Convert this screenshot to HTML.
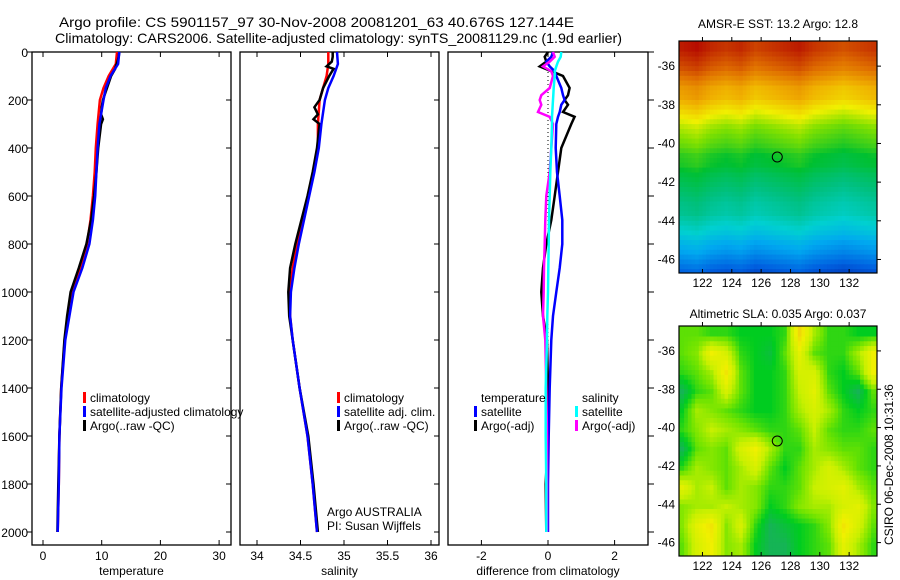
<!DOCTYPE html>
<html><head><meta charset="utf-8"><style>
html,body{margin:0;padding:0;background:#fff;}
svg{display:block;font-family:"Liberation Sans",sans-serif;}
</style></head><body>
<svg id="chart" width="900" height="580" viewBox="0 0 900 580" xmlns="http://www.w3.org/2000/svg">
<text x="59" y="27" font-size="14" textLength="515" lengthAdjust="spacingAndGlyphs">Argo profile: CS 5901157_97 30-Nov-2008 20081201_63 40.676S 127.144E</text>
<text x="55" y="43" font-size="14" textLength="567" lengthAdjust="spacingAndGlyphs">Climatology: CARS2006. Satellite-adjusted climatology: synTS_20081129.nc (1.9d earlier)</text>
<text x="778" y="28" font-size="12" text-anchor="middle">AMSR-E SST: 13.2 Argo: 12.8</text>
<text x="778" y="318" font-size="12" text-anchor="middle">Altimetric SLA: 0.035 Argo: 0.037</text>
<text transform="translate(893,545) rotate(-90)" font-size="12">CSIRO 06-Dec-2008 10:31:36</text>
<g id="g"></g>
</svg>
<script>
// ---- profile data ----
const depths = [0,50,100,150,200,300,400,500,600,700,800,900,1000,1100,1200,1400,1600,1800,2000];
const tempClim = [12.6,12.4,11.2,10.3,9.7,9.3,9.0,8.8,8.5,8.1,7.5,6.3,4.9,4.3,3.7,3.1,2.8,2.7,2.5];
const tempSat = [13.0,12.8,11.5,10.7,10.3,9.6,9.3,9.1,8.9,8.5,7.9,6.7,5.2,4.5,3.8,3.15,2.8,2.7,2.5];
const salClim = [34.82,34.82,34.8,34.76,34.72,34.70,34.70,34.65,34.59,34.53,34.46,34.41,34.38,34.38,34.41,34.49,34.58,34.64,34.69];
const salSat = [34.92,34.93,34.88,34.82,34.78,34.74,34.71,34.66,34.60,34.54,34.48,34.43,34.39,34.38,34.41,34.49,34.58,34.64,34.69];
const argoDepths = [0,20,40,60,70,100,150,200,230,260,280,300,400,500,600,700,800,900,1000,1100,1200,1400,1600,1800,2000];
const argoTemp = [13.0,12.9,12.7,12.4,12.3,11.6,10.9,10.2,10.0,9.9,10.2,9.9,9.4,9.1,8.7,8.2,7.4,6.1,4.7,4.1,3.65,3.1,2.8,2.6,2.45];
const argoSal = [34.87,34.87,34.86,34.80,34.88,34.83,34.76,34.72,34.66,34.70,34.65,34.72,34.69,34.64,34.58,34.51,34.44,34.38,34.36,34.37,34.41,34.49,34.59,34.65,34.70];
const diffDepths = [0,20,40,60,80,100,150,180,200,220,250,270,300,400,500,600,700,800,900,1000,1100,1200,1400,1600,1800,2000];
const diffTempSat = [0.15,0.1,-0.05,0.05,0.2,0.25,0.4,0.45,0.5,0.4,0.35,0.3,0.25,0.23,0.27,0.35,0.43,0.43,0.35,0.25,0.15,0.1,0.05,0.02,0,0];
const diffTempArgo = [0,-0.1,-0.05,-0.25,0.1,0.45,0.65,0.6,0.5,0.6,0.45,0.8,0.7,0.4,0.3,0.2,0.1,-0.05,-0.15,-0.2,-0.15,-0.03,0,0,-0.07,-0.05];
const diffSalSat = [0.4,0.38,0.3,0.25,0.2,0.2,0.17,0.16,0.15,0.14,0.13,0.12,0.12,0.1,0.07,0.05,0.03,0.02,0.01,0,-0.02,-0.03,-0.07,-0.07,-0.05,-0.05];
const diffSalArgo = [0.15,0.2,0.05,-0.15,0.1,0.15,0.05,-0.2,-0.25,-0.2,-0.3,0.05,0.15,0.1,0.05,-0.05,-0.08,-0.1,-0.12,-0.13,-0.15,-0.08,-0.05,-0.03,-0.03,-0.03];
const depthTicks = [0,200,400,600,800,1000,1200,1400,1600,1800,2000];
const tempTicks = [0,10,20,30];
const salTicks = [34,34.5,35,35.5,36];
const diffTicks = [-2,0,2];
// ---- map data ----
const sstLats = [-35,-35.5,-36,-36.5,-37,-37.5,-38,-38.5,-39,-39.5,-40,-40.5,-41,-41.5,-42,-42.5,-43,-43.5,-44,-44.5,-45,-45.5,-46,-46.5];
const sstRow = [16.6,16.4,16.2,15.9,15.6,15.5,15.2,14.9,14.6,14.4,14.2,13.9,13.8,13.5,13.3,13.1,12.9,12.8,12.5,12.2,11.8,11.5,11.1,10.7];
const sstLons = [120.5,121.5,122.5,123.5,124.5,125.5,126.5,127.5,128.5,129.5,130.5,131.5,132.5,133.5];
const sstColOffset = [0.2,0.3,0.1,0,0.1,-0.1,0,0.1,0.2,0,-0.1,-0.2,-0.1,0];
const slaLats = [-35,-36,-37,-38,-39,-40,-41,-42,-43,-44,-45,-46];
const slaLons = [120.5,121.5,122.5,123.5,124.5,125.5,126.5,127.5,128.5,129.5,130.5,131.5,132.5,133.5];
const slaGrid = [
[.5,.5,.45,.45,.4,.4,.4,.45,.9,.6,.45,.45,.4,.4],
[.5,.55,.8,.7,.45,.4,.35,.5,.75,.5,.45,.45,.6,.8],
[.45,.5,.6,.85,.5,.4,.4,.45,.7,.7,.45,.4,.5,.8],
[.3,.45,.5,.7,.5,.4,.4,.45,.65,.75,.5,.4,.3,.5],
[.4,.6,.55,.5,.45,.4,.4,.45,.6,.7,.6,.45,.4,.45],
[.45,.55,.65,.6,.55,.5,.45,.45,.5,.65,.5,.45,.45,.5],
[.3,.5,.55,.5,.7,.8,.6,.45,.45,.6,.55,.5,.5,.45],
[.45,.6,.55,.5,.6,.7,.5,.4,.5,.6,.7,.6,.5,.45],
[.75,.6,.65,.5,.6,.55,.45,.45,.5,.65,.7,.75,.6,.5],
[.55,.6,.6,.65,.6,.55,.4,.45,.55,.6,.6,.7,.75,.55],
[.55,.75,.85,.55,.7,.45,.3,.35,.4,.45,.55,.85,.7,.5],
[.5,.7,.8,.55,.6,.4,.3,.3,.4,.45,.5,.75,.6,.45]];
const argoLon = 127.1, argoLat = -40.7;
const lonTicks = [122,124,126,128,130,132];
const latTicks = [-36,-38,-40,-42,-44,-46];

const NS="http://www.w3.org/2000/svg";
const root=document.getElementById('g');
function el(tag,attrs,parent){const e=document.createElementNS(NS,tag);for(const k in attrs)e.setAttribute(k,attrs[k]);(parent||root).appendChild(e);return e;}
const yD=d=>52+d*0.24;
const PT=52,PB=545;
const panels=[
 {x0:32,x1:231,sx:v=>43+5.87*v,ticks:tempTicks,label:'temperature',name:'temperature-panel'},
 {x0:240,x1:439,sx:v=>257+87*(v-34),ticks:salTicks,label:'salinity',name:'salinity-panel'},
 {x0:448,x1:648,sx:v=>548+33.3*v,ticks:diffTicks,label:'difference from climatology',name:'difference-panel'}];
panels.forEach((p,i)=>{
 const g=el('g',{});
 
 
 const r=el('rect',{x:p.x0,y:PT,width:p.x1-p.x0,height:PB-PT,fill:'none',stroke:'#000','stroke-width':1.3},g);
 
 
 p.ticks.forEach(t=>{const x=p.sx(t);
  el('line',{x1:x,x2:x,y1:PB,y2:PB-5,stroke:'#000'},g);
  el('line',{x1:x,x2:x,y1:PT,y2:PT+5,stroke:'#000'},g);
  const tx=el('text',{x:x,y:PB+15,'font-size':12,'text-anchor':'middle'},g);tx.textContent=String(t);
  
  });
 const xl=el('text',{x:(p.x0+p.x1)/2,y:PB+30,'font-size':12,'text-anchor':'middle'},g);xl.textContent=p.label;
 
 
 depthTicks.forEach(d=>{const y=yD(d);
  if(i===0){el('line',{x1:p.x0-5,x2:p.x0,y1:y,y2:y,stroke:'#000'},g);
   const t=el('text',{x:p.x0-4,y:y+5,'font-size':12,'text-anchor':'end'},g);t.textContent=String(d);
   
   }
  if(i<2) el('line',{x1:p.x1-5,x2:p.x1,y1:y,y2:y,stroke:'#000'},g);
  else el('line',{x1:p.x1,x2:p.x1+6,y1:y,y2:y,stroke:'#000'},g);
 });
});
function line(p,ds,vs,color,name){
 const pts=ds.map((d,k)=>p.sx(vs[k]).toFixed(1)+','+yD(d).toFixed(1)).join(' ');
 const l=el('polyline',{points:pts,fill:'none',stroke:color,'stroke-width':2.5,'stroke-linejoin':'miter'});
 
 
}
line(panels[0],depths,tempClim,'#f00','temp-climatology-line');
line(panels[0],argoDepths,argoTemp,'#000','temp-argo-line');
line(panels[0],depths,tempSat,'#00f','temp-satellite-line');
line(panels[1],depths,salClim,'#f00','sal-climatology-line');
line(panels[1],argoDepths,argoSal,'#000','sal-argo-line');
line(panels[1],depths,salSat,'#00f','sal-satellite-line');
const zl=el('line',{x1:548,x2:548,y1:PT,y2:380,stroke:'#000','stroke-dasharray':'1,3','stroke-width':1});


line(panels[2],diffDepths,diffTempArgo,'#000','diff-temp-argo-line');
line(panels[2],diffDepths,diffTempSat,'#00f','diff-temp-satellite-line');
line(panels[2],diffDepths,diffSalArgo,'#f0f','diff-sal-argo-line');
line(panels[2],diffDepths,diffSalSat,'#0ff','diff-sal-satellite-line');
function legend(x,y,color,text,name){
 if(color){const m=el('rect',{x:x-7,y:y-10,width:3,height:11,fill:color});
  
  }
 const t=el('text',{x:x,y:y,'font-size':12});t.textContent=text;
 
 
}
legend(90,402,'#f00','climatology','legend-temp-climatology');
legend(90,416,'#00f','satellite-adjusted climatology','legend-temp-satellite');
legend(90,430,'#000','Argo(..raw -QC)','legend-temp-argo');
legend(344,402,'#f00','climatology','legend-sal-climatology');
legend(344,416,'#00f','satellite adj. clim.','legend-sal-satellite');
legend(344,430,'#000','Argo(..raw -QC)','legend-sal-argo');
legend(327,516,null,'Argo AUSTRALIA','argo-australia-note');
legend(327,530,null,'PI: Susan Wijffels','pi-note');
legend(481,402,null,'temperature','legend-diff-temp-heading');
legend(481,416,'#00f','satellite','legend-diff-temp-satellite');
legend(481,430,'#000','Argo(-adj)','legend-diff-temp-argo');
legend(582,402,null,'salinity','legend-diff-sal-heading');
legend(582,416,'#0ff','satellite','legend-diff-sal-satellite');
legend(582,430,'#f0f','Argo(-adj)','legend-diff-sal-argo');

// ---- maps ----
function hex(c){return [parseInt(c.slice(1,3),16),parseInt(c.slice(3,5),16),parseInt(c.slice(5,7),16)];}
function cmap(stops,v){v=Math.max(0,Math.min(1,v));
 for(let i=1;i<stops.length;i++){if(v<=stops[i][0]){const a=stops[i-1],b=stops[i];const f=(v-a[0])/(b[0]-a[0]);
  const ca=hex(a[1]),cb=hex(b[1]);return 'rgb('+ca.map((c,k)=>Math.round(c+(cb[k]-c)*f)).join(',')+')';}}
 return stops[stops.length-1][1];}
const sstStops=[[0,'#0020a0'],[0.12,'#0060e0'],[0.25,'#00a8f0'],[0.35,'#00d0d0'],[0.45,'#00c080'],[0.55,'#00c030'],[0.65,'#80e000'],[0.72,'#f0f000'],[0.8,'#f0b000'],[0.88,'#e07000'],[1,'#b00000']];
const slaStops=[[0,'#109070'],[0.25,'#20a870'],[0.4,'#00cc20'],[0.52,'#70e400'],[0.65,'#c8f000'],[0.8,'#f0f000'],[1,'#f0c010']];
function makeMap(top,bottom,name){
 const m={x0:679,x1:877,y0:top,y1:bottom};
 m.lx=lon=>679+(lon-120.4)*(198/13.5);
 m.ly=lat=>top+(-34.7-lat)*((bottom-top)/12);
 const g=el('g',{});
 
 
 const cp=el('clipPath',{id:name+'-clip'},g);el('rect',{x:679,y:top,width:198,height:bottom-top},cp);
 m.cells=el('g',{'clip-path':'url(#'+name+'-clip)'},g);
 m.g=g;return m;}
function frame(m){
 const r=el('rect',{x:m.x0,y:m.y0,width:m.x1-m.x0,height:m.y1-m.y0,fill:'none',stroke:'#000','stroke-width':1.2},m.g);
 
 
 lonTicks.forEach(l=>{const x=m.lx(l);el('line',{x1:x,x2:x,y1:m.y1,y2:m.y1-4,stroke:'#000'},m.g);el('line',{x1:x,x2:x,y1:m.y0,y2:m.y0-4,stroke:'#000'},m.g);
  const t=el('text',{x:x,y:m.y1+14,'font-size':12,'text-anchor':'middle'},m.g);t.textContent=String(l);
  
  });
 latTicks.forEach(l=>{const y=m.ly(l);el('line',{x1:m.x1,x2:m.x1+4,y1:y,y2:y,stroke:'#000'},m.g);
  const t=el('text',{x:m.x0-4,y:y+4,'font-size':12,'text-anchor':'end'},m.g);t.textContent=String(l);
  
  });
 const c=el('circle',{cx:m.lx(argoLon),cy:m.ly(argoLat),r:5,fill:'none',stroke:'#000','stroke-width':1},m.g);
 
 
}
function sample(lats,lons,get,lat,lon){
 const fi=Math.max(0,Math.min(lats.length-1.001,(lats[0]-lat)/(lats[0]-lats[1])));
 const fj=Math.max(0,Math.min(lons.length-1.001,(lon-lons[0])/(lons[1]-lons[0])));
 const i=Math.floor(fi),j=Math.floor(fj),a=fi-i,b=fj-j;
 return get(i,j)*(1-a)*(1-b)+get(i+1,j)*a*(1-b)+get(i,j+1)*(1-a)*b+get(i+1,j+1)*a*b;
}
const STEP=0.25;
const sst=makeMap(41,273,'sst-map');
for(let lat=-34.5;lat>-47;lat-=STEP){for(let lon=120.25;lon<134;lon+=STEP){
 const t=sample(sstLats,sstLons,(i,j)=>sstRow[i]+sstColOffset[j],lat,lon);
 const x=sst.lx(lon),y=sst.ly(lat);
 const c=el('rect',{x:x.toFixed(1),y:y.toFixed(1),width:(sst.lx(lon+STEP)-x+0.6).toFixed(1),height:(sst.ly(lat-STEP)-y+0.6).toFixed(1),fill:cmap(sstStops,(t-10)/7)},sst.cells);
 
 
}}
frame(sst);
const sla=makeMap(326,556,'sla-map');
for(let lat=-34.5;lat>-47;lat-=STEP){for(let lon=120.25;lon<134;lon+=STEP){
 const v=sample(slaLats,slaLons,(i,j)=>slaGrid[i][j],lat,lon);
 const x=sla.lx(lon),y=sla.ly(lat);
 const c=el('rect',{x:x.toFixed(1),y:y.toFixed(1),width:(sla.lx(lon+STEP)-x+0.6).toFixed(1),height:(sla.ly(lat-STEP)-y+0.6).toFixed(1),fill:cmap(slaStops,v)},sla.cells);
 
 
}}
frame(sla);
</script>
</body></html>
